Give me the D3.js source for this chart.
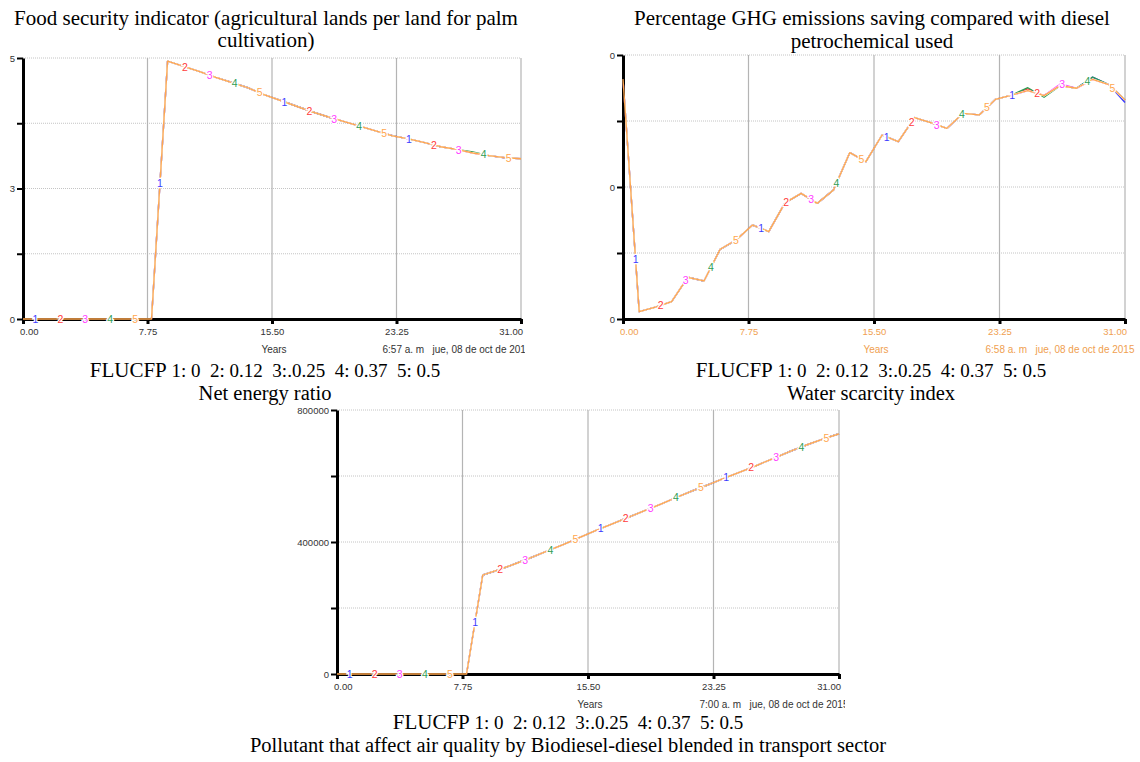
<!DOCTYPE html>
<html><head><meta charset="utf-8">
<script src="https://cdn.jsdelivr.net/npm/d3@7"></script>
<style>
body{margin:0;background:#fff}
svg{display:block;font-family:"Liberation Sans",Arial,sans-serif}
.serif{font-family:"Liberation Serif","Times New Roman",serif}
</style>
</head><body>
<svg id="c" width="1140" height="762"></svg>
<script>
// ---------------- DATA ----------------
const years = [0,1,2,3,4,5,6,7,8,9,10,11,12,13,14,15,16,17,18,19,20,21,22,23,24,25,26,27,28,29,30,31];
const seriesNames = ["1","2","3","4","5"];
const seriesColors = ["#3c3cff","#ff3c3c","#ff40ff","#2f9d55","#ffa64d"];

const xTickValues = [0,7.75,15.5,23.25,31];
const xTickLabels = ["0.00","7.75","15.50","23.25","31.00"];

// Food security indicator
const foodBase = [0,0,0,0,0,0,0,0,0,4.94,4.84,4.74,4.63,4.53,4.43,4.30,4.19,4.08,3.97,3.87,3.78,3.69,3.60,3.51,3.45,3.38,3.30,3.25,3.18,3.13,3.09,3.07];
const foodDiffs = [[], [], [], [[28,3.20]], []];
const foodYTicks = [5,3.75,2.5,1.25,0];
const foodYLabels = ["5","","3","","0"];

// Percentage GHG emissions saving (axis labels truncated to "0" in the source)
const ghgBase = [0.908,0.028,0.045,0.066,0.158,0.144,0.264,0.300,0.356,0.331,0.440,0.476,0.438,0.489,0.630,0.596,0.697,0.672,0.763,0.744,0.722,0.779,0.773,0.832,0.848,0.865,0.846,0.884,0.874,0.908,0.888,0.830];
const ghgDiffs = [[[29,0.916],[31,0.820]], [[25,0.872]], [[27,0.890]], [[25,0.876],[26,0.840],[29,0.916]], []];
const ghgYTicks = [1,0.75,0.5,0.25,0];
const ghgYLabels = ["0","","0","","0"];

// Pollutant that affect air quality
const pollBase = [0,0,0,0,0,0,0,0,0,300000,316000,334000,353000,373000,393000,414000,435000,455000,475000,495000,515000,536000,556000,575000,595000,614000,634000,654000,675000,694000,712000,728000];
const pollDiffs = [[], [], [], [], []];
const pollYTicks = [800000,600000,400000,200000,0];
const pollYLabels = ["800000","","400000","","0"];

const captionLead = "FLUCFP";
const captionRest = " 1: 0  2: 0.12  3:.0.25  4: 0.37  5: 0.5";

// ---------------- LAYOUT ----------------
const charts = [
  {key:"food", base:foodBase, diffs:foodDiffs, yTicks:foodYTicks, yLabels:foodYLabels, yDomain:[0,5],
   left:23, right:521, top:58, bottom:319, xLabelColor:"#333",
   title:["Food security indicator (agricultural lands per land for palm","cultivation)"], titleX:266, titleY:[25,47],
   stamp:"6:57 a. m   jue, 08 de oct de 2015", clipRight:525,
   capX:265, capY:377, cap2:"Net energy ratio", cap2Y:400},
  {key:"ghg", base:ghgBase, diffs:ghgDiffs, yTicks:ghgYTicks, yLabels:ghgYLabels, yDomain:[0,1],
   left:623, right:1125, top:55, bottom:319, xLabelColor:"#f0a050",
   title:["Percentage GHG emissions saving compared with diesel","petrochemical used"], titleX:872, titleY:[25,48],
   stamp:"6:58 a. m   jue, 08 de oct de 2015", clipRight:1140,
   capX:871, capY:377, cap2:"Water scarcity index", cap2Y:400},
  {key:"poll", base:pollBase, diffs:pollDiffs, yTicks:pollYTicks, yLabels:pollYLabels, yDomain:[0,800000],
   left:337, right:839, top:410, bottom:674, xLabelColor:"#333",
   title:[], titleX:0, titleY:[],
   stamp:"7:00 a. m   jue, 08 de oct de 2015", clipRight:845,
   capX:568, capY:729, cap2:"Pollutant that affect air quality by Biodiesel-diesel blended in transport sector", cap2Y:752}
];

const svg = d3.select("#c");
const defs = svg.append("defs");

charts.forEach((c, ci) => {
  const g = svg.append("g");
  const x = d3.scaleLinear().domain([0,31]).range([c.left, c.right]);
  const y = d3.scaleLinear().domain(c.yDomain).range([c.bottom, c.top]);

  const series = seriesNames.map((n, si) => {
    const vals = c.base.slice();
    c.diffs[si].forEach(([t, v]) => { vals[years.indexOf(t)] = v; });
    return years.map((t, i) => ({t, v: vals[i]}));
  });

  // horizontal dotted grid
  g.selectAll("line.hg").data(c.yTicks).join("line")
    .attr("x1", c.left).attr("x2", c.right)
    .attr("y1", d => y(d)).attr("y2", d => y(d))
    .attr("stroke", "#c4c4c4").attr("stroke-width", 1).attr("stroke-dasharray", "1,1");

  // vertical solid grid
  g.selectAll("line.vg").data(xTickValues.slice(1)).join("line")
    .attr("x1", d => x(d)).attr("x2", d => x(d))
    .attr("y1", c.top).attr("y2", c.bottom)
    .attr("stroke", "#b4b4b4").attr("stroke-width", 1.2);

  const line = d3.line().x(d => x(d.t)).y(d => y(d.v));

  // axes
  const xAxis = d3.axisBottom(x).tickValues(xTickValues)
    .tickFormat((d, i) => xTickLabels[i]).tickSize(5).tickSizeOuter(0).tickPadding(4);
  const xa = g.append("g").attr("transform", `translate(0,${c.bottom})`).call(xAxis);
  xa.select(".domain").attr("stroke", "#000").attr("stroke-width", 3);
  xa.selectAll(".tick line").attr("stroke", "#000").attr("stroke-width", 3);
  xa.selectAll(".tick text").attr("fill", c.xLabelColor).attr("font-size", 9.5)
    .attr("font-family", "Liberation Sans, Arial, sans-serif");
  const xt = xa.selectAll(".tick text").nodes();
  d3.select(xt[0]).attr("text-anchor", "start").attr("x", -3.5);
  d3.select(xt[xt.length-1]).attr("text-anchor", "end").attr("x", 1.5);

  const yAxis = d3.axisLeft(y).tickValues(c.yTicks)
    .tickFormat((d, i) => c.yLabels[i]).tickSize(6).tickSizeOuter(0).tickPadding(2);
  const ya = g.append("g").attr("transform", `translate(${c.left},0)`).call(yAxis);
  ya.select(".domain").attr("stroke", "#000").attr("stroke-width", 3);
  ya.selectAll(".tick line").attr("stroke", "#000").attr("stroke-width", 2);
  ya.selectAll(".tick text").attr("fill", "#333").attr("font-size", 9.5)
    .attr("font-family", "Liberation Sans, Arial, sans-serif");

  // mask so lower series only show where they depart from the top (orange) series
  const top = series[4];
  const mask = defs.append("mask").attr("id", "m" + ci).attr("maskUnits", "userSpaceOnUse")
    .attr("x", 0).attr("y", 0).attr("width", 1140).attr("height", 762);
  mask.append("rect").attr("width", 1140).attr("height", 762).attr("fill", "#fff");
  mask.append("path").attr("d", line(top)).attr("fill", "none")
    .attr("stroke", "#000").attr("stroke-width", 1.8).attr("stroke-linejoin", "round");

  const lower = g.append("g").attr("mask", `url(#m${ci})`);
  lower.selectAll("path").data(series.slice(0, 4)).join("path")
    .attr("d", line).attr("fill", "none")
    .attr("stroke", (d, i) => seriesColors[i]).attr("stroke-width", 1.4)
    .attr("stroke-linejoin", "round");
  g.append("path").attr("d", line(top)).attr("fill", "none")
    .attr("stroke", seriesColors[4]).attr("stroke-width", 1.3)
    .attr("stroke-linejoin", "round");

  // number markers along the lines
  const markerTimes = d3.range(20).map(i => ({t: (i + 0.5) * 31 / 20, s: i % 5}));
  const interp = (s, t) => {
    const pts = series[s];
    const i = Math.min(Math.floor(t), pts.length - 2);
    const f = t - pts[i].t;
    return pts[i].v + (pts[i+1].v - pts[i].v) * f;
  };
  g.selectAll("text.mk").data(markerTimes).join("text")
    .attr("x", d => x(d.t)).attr("y", d => y(interp(d.s, d.t)))
    .attr("dy", "0.36em").attr("text-anchor", "middle")
    .attr("font-size", 10.5).attr("fill", d => seriesColors[d.s])
    .attr("stroke", "#fff").attr("stroke-width", 2.5).attr("paint-order", "stroke")
    .text(d => seriesNames[d.s]);

  // Years label + timestamp
  g.append("text").attr("x", x(15.5) + 2).attr("y", c.bottom + 34)
    .attr("text-anchor", "middle").attr("font-size", 10).attr("fill", c.xLabelColor)
    .text("Years");
  defs.append("clipPath").attr("id", "clip" + ci).append("rect")
    .attr("x", 0).attr("y", 0).attr("width", c.clipRight).attr("height", 762);
  g.append("text").attr("x", x(23.25) - 14).attr("y", c.bottom + 34)
    .attr("font-size", 10).attr("fill", c.xLabelColor)
    .attr("clip-path", `url(#clip${ci})`)
    .style("white-space", "pre")
    .text(c.stamp);

  // titles
  c.title.forEach((t, i) => {
    g.append("text").attr("class", "serif").attr("x", c.titleX).attr("y", c.titleY[i])
      .attr("text-anchor", "middle").attr("font-size", 21).attr("fill", "#000").text(t);
  });

  // captions
  const cap = g.append("text").attr("class", "serif").attr("x", c.capX).attr("y", c.capY)
    .attr("text-anchor", "middle").attr("fill", "#000").style("white-space", "pre");
  cap.append("tspan").attr("font-size", 21).text(captionLead);
  cap.append("tspan").attr("font-size", 19).text(captionRest);
  g.append("text").attr("class", "serif").attr("x", c.capX).attr("y", c.cap2Y)
    .attr("text-anchor", "middle").attr("font-size", 20.5).attr("fill", "#000").text(c.cap2);
});
</script>
</body></html>
